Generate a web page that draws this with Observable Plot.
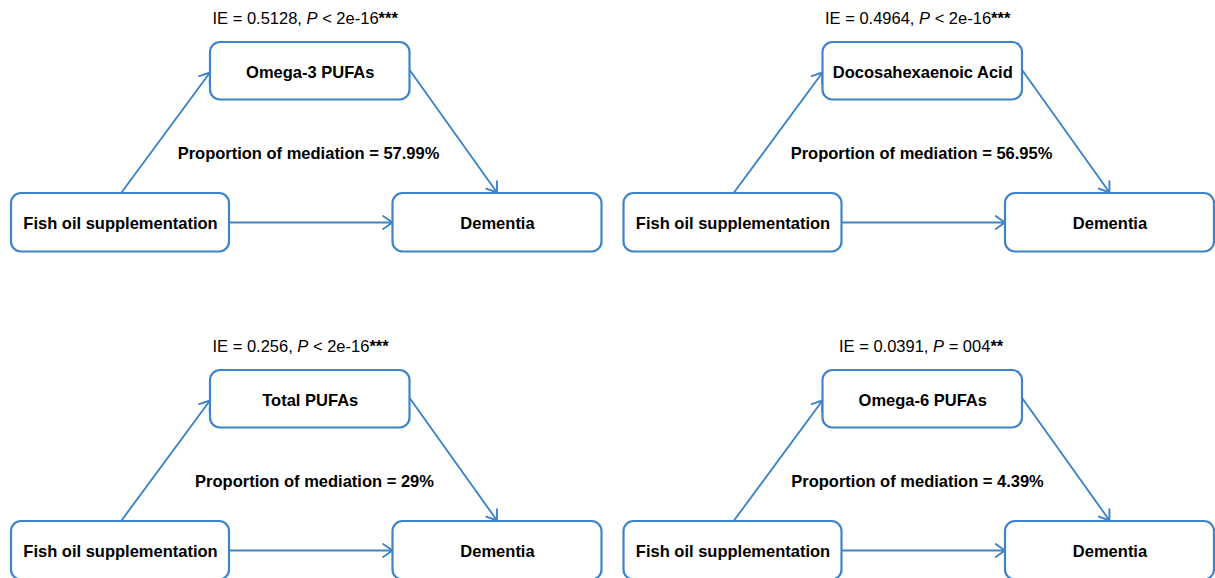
<!DOCTYPE html>
<html>
<head>
<meta charset="utf-8">
<script src="https://cdn.jsdelivr.net/npm/d3@7"></script>
<script src="https://cdn.jsdelivr.net/npm/@observablehq/plot@0.6"></script>
<style>
  html, body { margin: 0; padding: 0; background: #fff; }
  #chart svg { display: block; }
</style>
</head>
<body>
<div id="chart"></div>
<script>
// ---- data ----
const mediators = ["Omega-3 PUFAs", "Docosahexaenoic Acid", "Total PUFAs", "Omega-6 PUFAs"];
const ieValues = ["0.5128", "0.4964", "0.256", "0.0391"];
const pTexts = ["< 2e-16***", "< 2e-16***", "< 2e-16***", "= 004**"];
const proportions = ["57.99%", "56.95%", "29%", "4.39%"];
const exposure = "Fish oil supplementation";
const outcome = "Dementia";

// ---- layout (panel offsets and node geometry, in pixel space) ----
const panelDX = [0, 612.5, 0, 612.5];
const panelDY = [0, 0, 328, 328];
const geom = {
  med: {x1: 210, x2: 409.5, y1: 42, y2: 99.5},
  exp: {x1: 11, x2: 229, y1: 193, y2: 251.5},
  out: {x1: 392.5, x2: 601.5, y1: 193, y2: 251.5}
};
const ieLeft = [212, 212, 212, 226];
const propX = [308, 308.5, 314, 304.5];
const blue = "#3f83c9";

const boxes = [], labels = [], arrows = [], ieLabels = [], propLabels = [];
mediators.forEach((m, i) => {
  const dx = panelDX[i], dy = panelDY[i];
  const names = {med: m, exp: exposure, out: outcome};
  for (const k of ["med", "exp", "out"]) {
    const g = geom[k];
    boxes.push({x1: g.x1 + dx, x2: g.x2 + dx, y1: g.y1 + dy, y2: g.y2 + dy});
    labels.push({x: (g.x1 + g.x2) / 2 + dx, y: (g.y1 + g.y2) / 2 + dy + 1, text: names[k]});
  }
  arrows.push({x1: 121 + dx, y1: 192 + dy, x2: 209.5 + dx, y2: 72 + dy});
  arrows.push({x1: 409.5 + dx, y1: 70 + dy, x2: 496.5 + dx, y2: 192 + dy});
  arrows.push({x1: 229 + dx, y1: 222 + dy, x2: 392 + dx, y2: 222 + dy});
  ieLabels.push({x: ieLeft[i] + dx, y: 18 + dy, text: `IE = ${ieValues[i]}, P ${pTexts[i]}`});
  propLabels.push({x: propX[i] + dx, y: 153 + dy, text: `Proportion of mediation = ${proportions[i]}`});
});

const font = "'Liberation Sans', Arial, sans-serif";
const plot = Plot.plot({
  width: 1215,
  height: 578,
  margin: 0,
  x: {domain: [0, 1215], range: [0, 1215], axis: null},
  y: {domain: [0, 578], range: [0, 578], axis: null},
  style: {background: "#fff", fontFamily: font, overflow: "hidden"},
  marks: [
    Plot.arrow(arrows, {x1: "x1", y1: "y1", x2: "x2", y2: "y2", stroke: blue, strokeWidth: 1.9, headLength: 9, headAngle: 70, bend: 0}),
    Plot.rect(boxes, {x1: "x1", x2: "x2", y1: "y1", y2: "y2", fill: "white", stroke: blue, strokeWidth: 2.2, rx: 10}),
    Plot.text(labels, {x: "x", y: "y", text: "text", fontSize: 16.5, fontWeight: "bold", fill: "#000"}),
    Plot.text(propLabels, {x: "x", y: "y", text: "text", fontSize: 16.5, fontWeight: "bold", fill: "#000"}),
    Plot.text(ieLabels, {x: "x", y: "y", text: "text", fontSize: 16.5, textAnchor: "start", fill: "#000"})
  ]
});
document.getElementById("chart").appendChild(plot);

// italic "P" and bold significance stars inside the IE labels
const NS = "http://www.w3.org/2000/svg";
plot.querySelectorAll("text").forEach(t => {
  const s = t.textContent;
  const m = s.match(/^(IE = [^,]+, )P (.*?)(\*+)$/);
  if (!m) return;
  t.textContent = "";
  const parts = [[m[1], null], ["P", "italic"], [" " + m[2], null], [m[3], "bold"]];
  for (const [txt, st] of parts) {
    const ts = document.createElementNS(NS, "tspan");
    ts.textContent = txt;
    if (st === "italic") ts.setAttribute("font-style", "italic");
    if (st === "bold") ts.setAttribute("font-weight", "bold");
    t.appendChild(ts);
  }
});
</script>
</body>
</html>
